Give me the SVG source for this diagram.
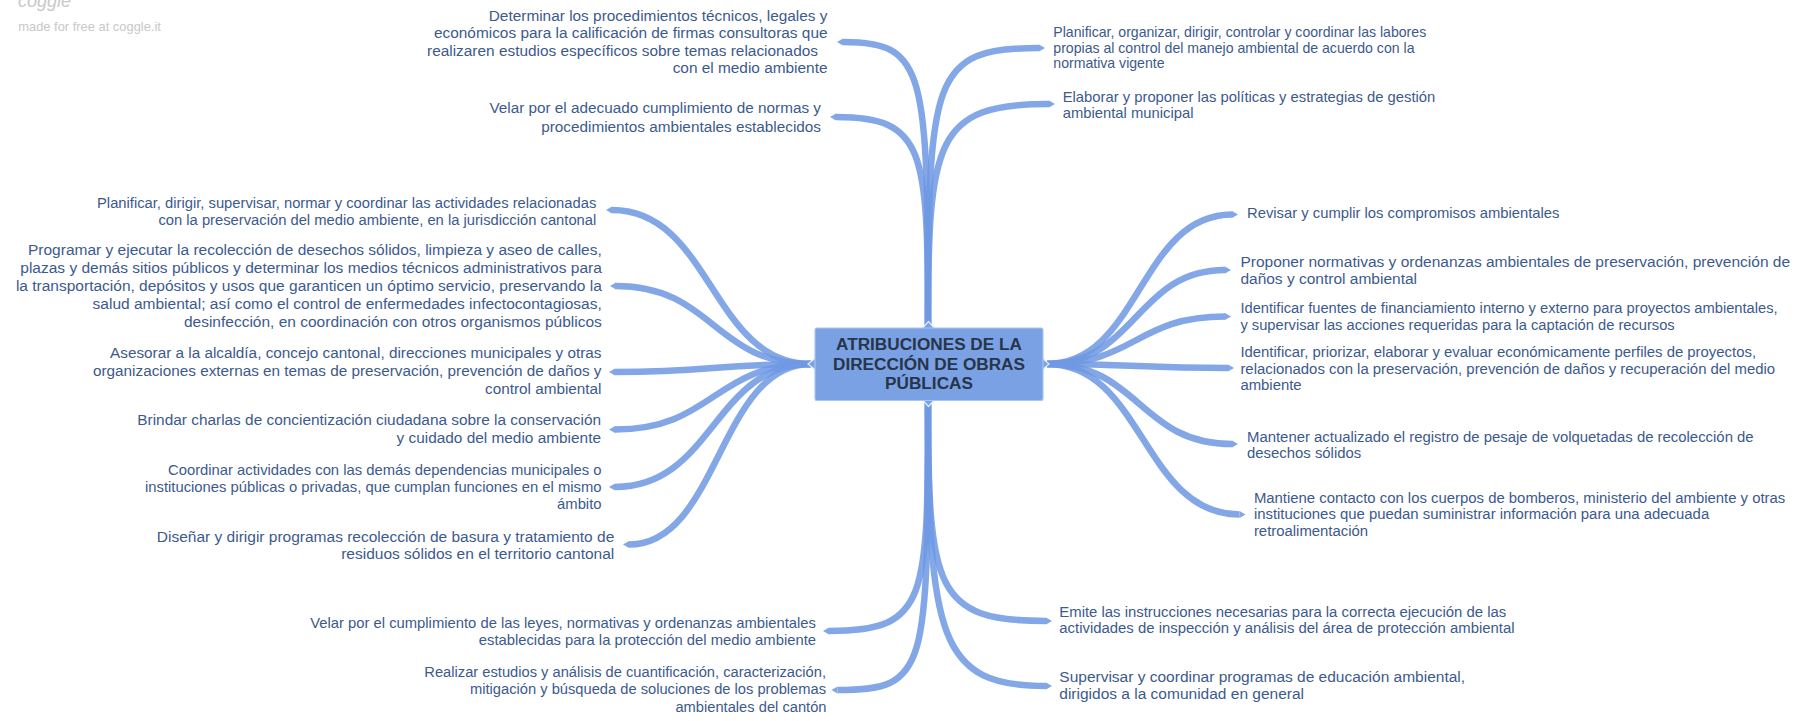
<svg xmlns="http://www.w3.org/2000/svg" width="1804" height="721" viewBox="0 0 1804 721">
<style>
  .n text { font-family: "Liberation Sans", Arial, sans-serif; fill: #3c5a8d; }
  .n .e { text-anchor: end; }
  .b { opacity: 0.86; }
  .b path { fill: none; stroke: #6f99e3; stroke-width: 6.5; }
  .b polygon { fill: #6f99e3; }
  .title text { font-family: "Liberation Sans", Arial, sans-serif; font-weight: bold; font-size: 17.2px; fill: #283548; text-anchor: middle; }
  .wm { font-family: "Liberation Sans", Arial, sans-serif; fill: #c8c8c8; }
</style>
<rect width="1804" height="721" fill="#ffffff"/>
<text class="wm" x="18" y="7" font-family="Liberation Serif" font-style="italic" font-size="18" fill="#c2c2c2">coggle</text>
<text class="wm" x="18.3" y="31" font-size="12.9">made for free at coggle.it</text>

<g id="connectors">
  <!-- top -->
  <g class="b"><path d="M928 328 C928 70 926 42 843 42"/><polygon points="843,38.5 837,42 843,45.5"/></g>
  <g class="b"><path d="M928 328 C928 150 925 117 836 117"/><polygon points="836,113.5 830,117 836,120.5"/></g>
  <g class="b"><path d="M928 328 C928 75 932 48 1039 48"/><polygon points="1039,44.5 1045,48 1039,51.5"/></g>
  <g class="b"><path d="M928 328 C928 140 935 104 1049 104"/><polygon points="1049,100.5 1055,104 1049,107.5"/></g>
  <!-- left -->
  <g class="b"><path d="M811 364 C711.5 364 711.5 210 612 210"/><polygon points="612,206.5 606,210 612,213.5"/></g>
  <g class="b"><path d="M811 364 C713.5 364 713.5 286 616 286"/><polygon points="616,282.5 610,286 616,289.5"/></g>
  <g class="b"><path d="M811 364 C713 364 713 372 615 372"/><polygon points="615,368.5 609,372 615,375.5"/></g>
  <g class="b"><path d="M811 364 C713.5 364 713.5 429.5 615 429.5"/><polygon points="615,426 609,429.5 615,433"/></g>
  <g class="b"><path d="M811 364 C713.5 364 713.5 487 615 487"/><polygon points="615,483.5 609,487 615,490.5"/></g>
  <g class="b"><path d="M811 364 C719 364 719 544.5 629 544.5"/><polygon points="629,541 623,544.5 629,548"/></g>
  <!-- right -->
  <g class="b"><path d="M1047 364 C1139.5 364 1139.5 214.5 1232 214.5"/><polygon points="1232,211 1238,214.5 1232,218"/></g>
  <g class="b"><path d="M1047 364 C1136 364 1136 270 1225 270"/><polygon points="1225,266.5 1231,270 1225,273.5"/></g>
  <g class="b"><path d="M1047 364 C1136 364 1136 316.5 1225 316.5"/><polygon points="1225,313 1231,316.5 1225,320"/></g>
  <g class="b"><path d="M1047 364 C1137.5 364 1137.5 368 1228 368"/><polygon points="1228,364.5 1234,368 1228,371.5"/></g>
  <g class="b"><path d="M1047 364 C1139.5 364 1139.5 444 1232 444"/><polygon points="1232,440.5 1238,444 1232,447.5"/></g>
  <g class="b"><path d="M1047 364 C1143 364 1143 514.5 1239.5 514.5"/><polygon points="1239.5,511 1245.5,514.5 1239.5,518"/></g>
  <!-- bottom -->
  <g class="b"><path d="M928 400 C928 600 928 631 829 631"/><polygon points="829,627.5 823,631 829,634.5"/></g>
  <g class="b"><path d="M928 400 C928 672 928 690 837.5 690"/><polygon points="837.5,686.5 831.5,690 837.5,693.5"/></g>
  <g class="b"><path d="M928 400 C928 590 935 621 1046 621"/><polygon points="1046,617.5 1052,621 1046,624.5"/></g>
  <g class="b"><path d="M928 400 C928 640 940 686 1046 686"/><polygon points="1046,682.5 1052,686 1046,689.5"/></g>
</g>

<g id="root" class="title">
  <polygon points="920,331 928.5,321.5 937,331" fill="#79a1e4" stroke="#e4edfb" stroke-width="1.2"/>
  <polygon points="920,397 928.5,406.5 937,397" fill="#79a1e4" stroke="#e4edfb" stroke-width="1.2"/>
  <polygon points="818,356 808,364 818,372" fill="#79a1e4" stroke="#e4edfb" stroke-width="1.2"/>
  <polygon points="1040,356 1049,364 1040,372" fill="#79a1e4" stroke="#e4edfb" stroke-width="1.2"/>
  <rect x="815" y="328" width="228" height="72.5" rx="2" fill="#79a1e4" stroke="#a9c5f1" stroke-width="1.2"/>
  <text x="929" y="350">ATRIBUCIONES DE LA</text>
  <text x="929" y="369.5">DIRECCIÓN DE OBRAS</text>
  <text x="929" y="389">PÚBLICAS</text>
</g>

<g id="nA" class="n" font-size="15.4">
  <text class="e" x="827.5" y="20.7">Determinar los procedimientos técnicos, legales y</text>
  <text class="e" x="827.5" y="38.3">económicos para la calificación de firmas consultoras que</text>
  <text class="e" x="818" y="56">realizaren estudios específicos sobre temas relacionados</text>
  <text class="e" x="827.5" y="73.3">con el medio ambiente</text>
</g>
<g id="nB" class="n" font-size="15.3">
  <text class="e" x="821" y="112.7">Velar por el adecuado cumplimiento de normas y</text>
  <text class="e" x="821" y="131.7">procedimientos ambientales establecidos</text>
</g>
<g id="nC" class="n" font-size="14.1">
  <text x="1053.3" y="36.7">Planificar, organizar, dirigir, controlar y coordinar las labores</text>
  <text x="1053.3" y="52.7">propias al control del manejo ambiental de acuerdo con la</text>
  <text x="1053.3" y="68.3">normativa vigente</text>
</g>
<g id="nD" class="n" font-size="14.8">
  <text x="1062.7" y="101.7">Elaborar y proponer las políticas y estrategias de gestión</text>
  <text x="1062.7" y="118.3">ambiental municipal</text>
</g>
<g id="nE" class="n" font-size="14.75">
  <text class="e" x="596.3" y="208.3">Planificar, dirigir, supervisar, normar y coordinar las actividades relacionadas</text>
  <text class="e" x="596.3" y="225">con la preservación del medio ambiente, en la jurisdicción cantonal</text>
</g>
<g id="nF" class="n" font-size="15.5">
  <text class="e" x="601.8" y="255">Programar y ejecutar la recolección de desechos sólidos, limpieza y aseo de calles,</text>
  <text class="e" x="601.8" y="273">plazas y demás sitios públicos y determinar los medios técnicos administrativos para</text>
  <text class="e" x="601.8" y="291">la transportación, depósitos y usos que garanticen un óptimo servicio, preservando la</text>
  <text class="e" x="601.8" y="308.5">salud ambiental; así como el control de enfermedades infectocontagiosas,</text>
  <text class="e" x="601.8" y="326.5">desinfección, en coordinación con otros organismos públicos</text>
</g>
<g id="nG" class="n" font-size="15.3">
  <text class="e" x="601.5" y="358">Asesorar a la alcaldía, concejo cantonal, direcciones municipales y otras</text>
  <text class="e" x="601.5" y="376">organizaciones externas en temas de preservación, prevención de daños y</text>
  <text class="e" x="601.5" y="393.5">control ambiental</text>
</g>
<g id="nH" class="n" font-size="15.4">
  <text class="e" x="601" y="425">Brindar charlas de concientización ciudadana sobre la conservación</text>
  <text class="e" x="601" y="442.7">y cuidado del medio ambiente</text>
</g>
<g id="nI" class="n" font-size="14.8">
  <text class="e" x="601.5" y="475">Coordinar actividades con las demás dependencias municipales o</text>
  <text class="e" x="601.5" y="492.3">instituciones públicas o privadas, que cumplan funciones en el mismo</text>
  <text class="e" x="601.5" y="509.3">ámbito</text>
</g>
<g id="nJ" class="n" font-size="15.5">
  <text class="e" x="614.3" y="541.7">Diseñar y dirigir programas recolección de basura y tratamiento de</text>
  <text class="e" x="614.3" y="559.3">residuos sólidos en el territorio cantonal</text>
</g>
<g id="nK" class="n" font-size="14.8">
  <text class="e" x="816" y="627.5">Velar por el cumplimiento de las leyes, normativas y ordenanzas ambientales</text>
  <text class="e" x="816" y="644.5">establecidas para la protección del medio ambiente</text>
</g>
<g id="nL" class="n" font-size="14.7">
  <text class="e" x="826" y="676.5">Realizar estudios y análisis de cuantificación, caracterización,</text>
  <text class="e" x="826" y="694">mitigación y búsqueda de soluciones de los problemas</text>
  <text class="e" x="826.5" y="711.5">ambientales del cantón</text>
</g>
<g id="nM" class="n" font-size="14.9">
  <text x="1059.3" y="616.7">Emite las instrucciones necesarias para la correcta ejecución de las</text>
  <text x="1059.3" y="633.3">actividades de inspección y análisis del área de protección ambiental</text>
</g>
<g id="nN" class="n" font-size="15.5">
  <text x="1059.3" y="681.7">Supervisar y coordinar programas de educación ambiental,</text>
  <text x="1059.3" y="699.3">dirigidos a la comunidad en general</text>
</g>
<g id="nO" class="n" font-size="14.8">
  <text x="1247" y="218.3">Revisar y cumplir los compromisos ambientales</text>
</g>
<g id="nP" class="n" font-size="15.5">
  <text x="1240.4" y="267.3">Proponer normativas y ordenanzas ambientales de preservación, prevención de</text>
  <text x="1240.4" y="284">daños y control ambiental</text>
</g>
<g id="nQ" class="n" font-size="14.7">
  <text x="1240.4" y="313.3">Identificar fuentes de financiamiento interno y externo para proyectos ambientales,</text>
  <text x="1240.4" y="330">y supervisar las acciones requeridas para la captación de recursos</text>
</g>
<g id="nR" class="n" font-size="14.9">
  <text x="1240.4" y="356.7">Identificar, priorizar, elaborar y evaluar económicamente perfiles de proyectos,</text>
  <text x="1240.4" y="374">relacionados con la preservación, prevención de daños y recuperación del medio</text>
  <text x="1240.4" y="390">ambiente</text>
</g>
<g id="nS" class="n" font-size="14.9">
  <text x="1247" y="441.7">Mantener actualizado el registro de pesaje de volquetadas de recolección de</text>
  <text x="1247" y="458.3">desechos sólidos</text>
</g>
<g id="nT" class="n" font-size="14.9">
  <text x="1253.9" y="502.7">Mantiene contacto con los cuerpos de bomberos, ministerio del ambiente y otras</text>
  <text x="1253.9" y="519.3">instituciones que puedan suministrar información para una adecuada</text>
  <text x="1253.9" y="536">retroalimentación</text>
</g>
</svg>
